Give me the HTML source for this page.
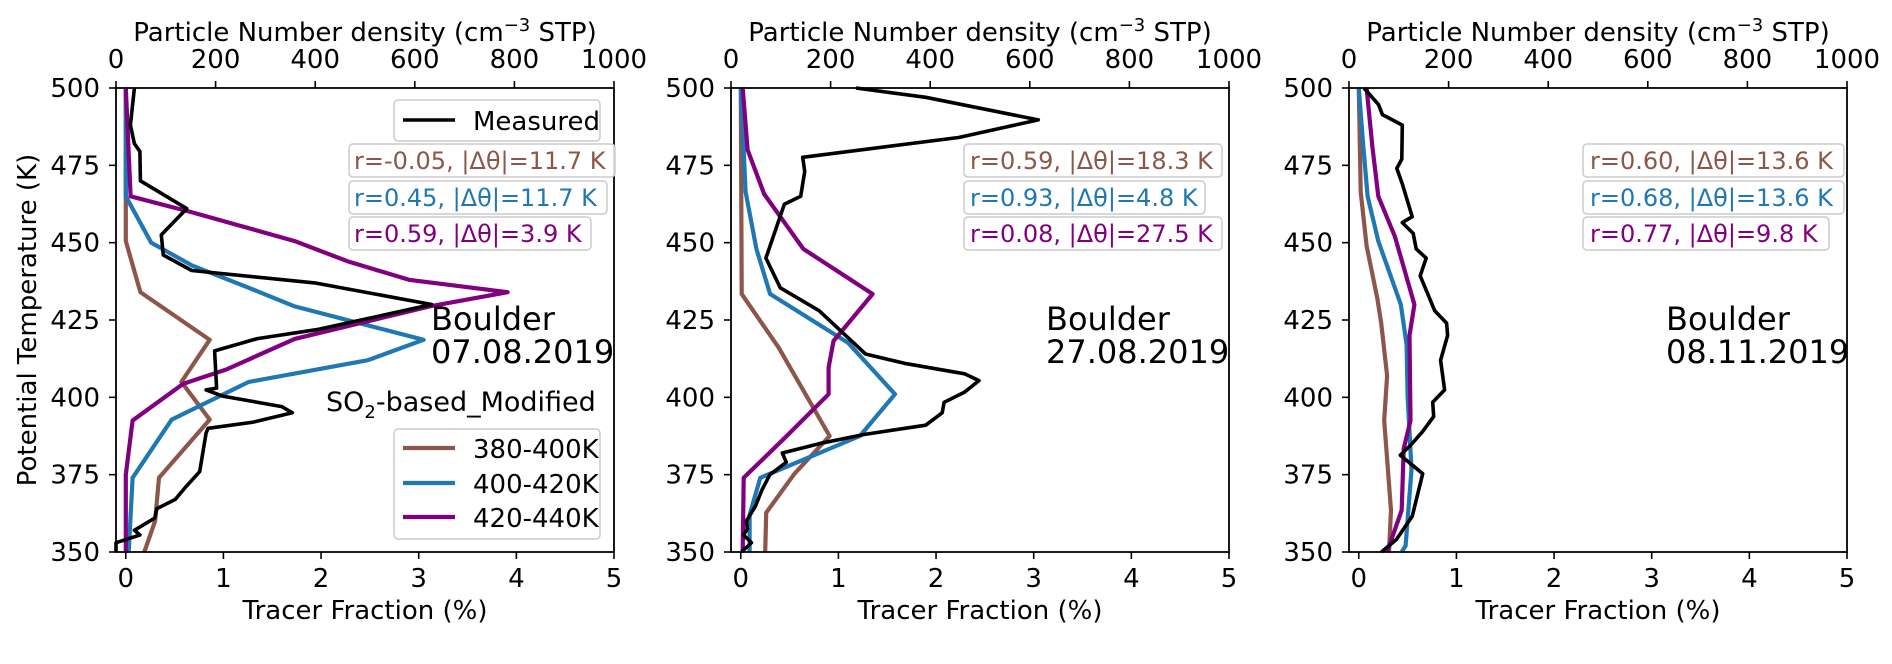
<!DOCTYPE html>
<html><head><meta charset="utf-8"><style>
html,body{margin:0;padding:0;background:#fff;}
svg{display:block;font-family:"DejaVu Sans","Liberation Sans",sans-serif;}
</style></head><body>
<svg id="chart" width="1892" height="664" viewBox="0 0 1892 664" xmlns="http://www.w3.org/2000/svg"></svg>
<script>
const thetaTicks = [350, 375, 400, 425, 450, 475, 500];
const fracTicks = [0, 1, 2, 3, 4, 5];
const densTicks = [0, 200, 400, 600, 800, 1000];
const panelTitles = ["Boulder\n07.08.2019", "Boulder\n27.08.2019", "Boulder\n08.11.2019"];
const seriesNames = ["380-400K", "400-420K", "420-440K"];
const seriesColors = ["#8c564b", "#1f77b4", "#800080"];
// Panel 1 (07.08.2019)
const p1MeasDens = [37,29,37,48,49,142,91,95,152,399,634,407,284,198,202,181,214,333,354,276,185,181,168,140,119,82,78,37,48,0,0];
const p1MeasTheta = [500,488,482,479.5,470,461,452.5,446,441,437,430,422,419,415,403,402.4,400.4,397,395,392,390,388.5,376,371,367,364,361,357,355.5,353,350];
const p1BrownFrac = [0,0,0,0.15,0.86,0.57,0.86,0.34,0.30,0.19];
const p1BrownTheta = [500,467,450.5,434,418.6,405,392.8,374,360,350];
const p1BlueFrac = [0,0,0.26,0.68,1.26,1.73,3.05,2.48,1.26,0.47,0.07,0.03];
const p1BlueTheta = [500,465,450,442.6,435.4,429.4,418.6,412,405,392.8,374,350];
const p1PurpleFrac = [0,0.05,0.68,1.73,2.27,2.9,3.91,3.11,1.73,1.03,0.59,0.07,0,0];
const p1PurpleTheta = [500,465,459.8,450.5,444,438,434,429.4,418.9,409,404.4,392.5,375,350];
const p1Stats = ["r=-0.05, |Δθ|=11.7 K", "r=0.45, |Δθ|=11.7 K", "r=0.59, |Δθ|=3.9 K"];
// Panel 2 (27.08.2019)
const p2MeasDens = [251,391,617,457,144,148,140,107,70,99,177,270,348,469,498,469,428,424,391,267,177,103,111,78,62,49,31,33,25,41,21];
const p2MeasTheta = [500,497,489.7,484,477.6,473,465,462.4,445,435.4,428,414,411,407.6,405.4,401.7,398.4,395,391,388,385,382,379,375,370,364.8,360,357.5,355.5,353,350];
const p2BrownFrac = [0,0.01,0.39,0.91,0.55,0.26,0.25];
const p2BrownTheta = [500,433.4,416,387.5,375.3,362.7,350];
const p2BlueFrac = [0,0.05,0.16,0.3,1.1,1.58,1.22,0.2,0.09,0.09];
const p2BlueTheta = [500,466.4,448,433.4,417.6,401,387.5,374,362,350];
const p2PurpleFrac = [0.02,0.07,0.24,0.64,1.35,0.95,0.9,0.9,0.47,0.03,0.02];
const p2PurpleTheta = [500,480,465.7,448,433.4,418.2,409.6,401,387.5,374,350];
const p2Stats = ["r=0.59, |Δθ|=18.3 K", "r=0.93, |Δθ|=4.8 K", "r=0.08, |Δθ|=27.5 K"];
// Panel 3 (08.11.2019)
const p3MeasDens = [30,59,67,107,106,96,107,127,107,129,135,155,143,172,196,198,184,192,168,170,148,124,103,148,127,95,65];
const p3MeasTheta = [500,494.7,491.4,488,477,474,469,458.4,456.5,453,448,445,439.3,428,424,420,412,402.4,398.4,393.8,389,384.6,381.3,375.3,361.5,354,350];
const p3BrownFrac = [0,0.02,0.08,0.19,0.23,0.29,0.26,0.33,0.31];
const p3BrownTheta = [500,466.4,449,432,424,407,392.5,363.5,350];
const p3BlueFrac = [0,0.04,0.09,0.2,0.43,0.49,0.5,0.54,0.48,0.44];
const p3BlueTheta = [500,483.5,465,450.5,430,417,400.4,376.7,352,350];
const p3PurpleFrac = [0.08,0.14,0.2,0.37,0.57,0.52,0.53,0.46,0.44,0.29];
const p3PurpleTheta = [500,481,465,452,430,420,392.5,383.4,363.5,350];
const p3Stats = ["r=0.60, |Δθ|=13.6 K", "r=0.68, |Δθ|=13.6 K", "r=0.77, |Δθ|=9.8 K"];

const NS = "http://www.w3.org/2000/svg";
const svg = document.getElementById("chart");
function mk(tag, attrs, parent) {
  const e = document.createElementNS(NS, tag);
  for (const k in attrs) e.setAttribute(k, attrs[k]);
  (parent || svg).appendChild(e);
  return e;
}
const TOP = 88, BOT = 552, W = 498;
const FS = 26;
const panels = [
  {left:116, meas:[p1MeasDens,p1MeasTheta], ser:[[p1BrownFrac,p1BrownTheta],[p1BlueFrac,p1BlueTheta],[p1PurpleFrac,p1PurpleTheta]], stats:p1Stats, boxX:349, boxW:[266,258,242], textX:354, bx:431, legend:true},
  {left:731, meas:[p2MeasDens,p2MeasTheta], ser:[[p2BrownFrac,p2BrownTheta],[p2BlueFrac,p2BlueTheta],[p2PurpleFrac,p2PurpleTheta]], stats:p2Stats, boxX:964, boxW:[258,241,258],  textX:970, bx:1046},
  {left:1349, meas:[p3MeasDens,p3MeasTheta], ser:[[p3BrownFrac,p3BrownTheta],[p3BlueFrac,p3BlueTheta],[p3PurpleFrac,p3PurpleTheta]], stats:p3Stats, boxX:1583, boxW:[261,261,246], textX:1590, bx:1666}
];
panels.forEach((p, i) => {
  const g = mk("g", {});
  
  
  const xF = v => p.left + (v + 0.1) / 5.1 * W;
  const xD = v => p.left + v / 1000 * W;
  const y = t => BOT - (t - 350) / 150 * (BOT - TOP);
  p.ser.forEach((s, k) => {
    const pts = s[0].map((v, j) => xF(v).toFixed(1) + "," + y(s[1][j]).toFixed(1)).join(" ");
    const l = mk("polyline", {points: pts, fill: "none", stroke: seriesColors[k], "stroke-width": 4.2, "stroke-linejoin": "round"}, g);
    
    
  });
  const mp = p.meas[0].map((v, j) => xD(v).toFixed(1) + "," + y(p.meas[1][j]).toFixed(1)).join(" ");
  const ml = mk("polyline", {points: mp, fill: "none", stroke: "#000", "stroke-width": 3.6, "stroke-linejoin": "round"}, g);
  
  
  const fr = mk("rect", {x: p.left, y: TOP, width: W, height: BOT - TOP, fill: "none", stroke: "#000", "stroke-width": 1.8}, g);
  
  
  thetaTicks.forEach(t => {
    mk("line", {x1: p.left - 7, x2: p.left, y1: y(t), y2: y(t), stroke: "#000", "stroke-width": 1.6}, g);
    const tx = mk("text", {x: p.left - 16, y: y(t) + 9, "text-anchor": "end", "font-size": FS}, g);
    tx.textContent = t;
    
    
  });
  fracTicks.forEach(t => {
    mk("line", {x1: xF(t), x2: xF(t), y1: BOT, y2: BOT + 7, stroke: "#000", "stroke-width": 1.6}, g);
    const tx = mk("text", {x: xF(t), y: 587, "text-anchor": "middle", "font-size": FS}, g);
    tx.textContent = t;
    
    
  });
  densTicks.forEach(t => {
    mk("line", {x1: xD(t), x2: xD(t), y1: TOP - 7, y2: TOP, stroke: "#000", "stroke-width": 1.6}, g);
    const tx = mk("text", {x: xD(t), y: 68, "text-anchor": "middle", "font-size": FS}, g);
    tx.textContent = t;
    
    
  });
  const xl = mk("text", {x: p.left + W/2, y: 619, "text-anchor": "middle", "font-size": FS}, g);
  xl.textContent = "Tracer Fraction (%)";
  
  
  const tl = mk("text", {x: p.left + W/2, y: 41, "text-anchor": "middle", "font-size": FS}, g);
  tl.innerHTML = 'Particle Number density (cm<tspan dy="-10" font-size="18">−3</tspan><tspan dy="10"> STP)</tspan>';
  
  
  p.stats.forEach((s, k) => {
    const by = [144, 181, 217][k];
    const b = mk("rect", {x: p.boxX, y: by, width: p.boxW[k], height: 33, rx: 4, fill: "#fff", "fill-opacity": 0.85, stroke: "#ccc", "stroke-width": 1.5}, g);
    
    
    const tx = mk("text", {x: p.textX, y: by + 25, "font-size": 24, fill: seriesColors[k]}, g);
    tx.textContent = s;
    
    
  });
  const lines = panelTitles[i].split("\n");
  lines.forEach((ln, k) => {
    const tx = mk("text", {x: p.bx, y: 330 + k * 33, "font-size": 32}, g);
    tx.textContent = ln;
    
    
  });
  if (p.legend) {
    const lb = mk("rect", {x: 394, y: 100, width: 206, height: 41, rx: 4, fill: "#fff", stroke: "#ccc", "stroke-width": 1.5}, g);
    
    
    mk("line", {x1: 403, x2: 455, y1: 120, y2: 120, stroke: "#000", "stroke-width": 3.6}, g);
    const mt = mk("text", {x: 473, y: 130, "font-size": 26}, g);
    mt.textContent = "Measured";
    
    
    const so = mk("text", {x: 326, y: 411, "font-size": 27}, g);
    so.innerHTML = 'SO<tspan dy="7" font-size="18">2</tspan><tspan dy="-7">-based_Modified</tspan>';
    
    
    const mb = mk("rect", {x: 394, y: 429, width: 206, height: 110, rx: 4, fill: "#fff", stroke: "#ccc", "stroke-width": 1.5}, g);
    
    
    seriesNames.forEach((nm, k) => {
      const ly = [448, 483, 517][k];
      mk("line", {x1: 403, x2: 455, y1: ly, y2: ly, stroke: seriesColors[k], "stroke-width": 4.2}, g);
      const t = mk("text", {x: 473, y: ly + 10, "font-size": 26}, g);
      t.textContent = nm;
      
      
    });
  }
});
const yl = mk("text", {x: 0, y: 0, "text-anchor": "middle", "font-size": FS, transform: "translate(36,320) rotate(-90)"});
yl.textContent = "Potential Temperature (K)";


</script>
</body></html>
